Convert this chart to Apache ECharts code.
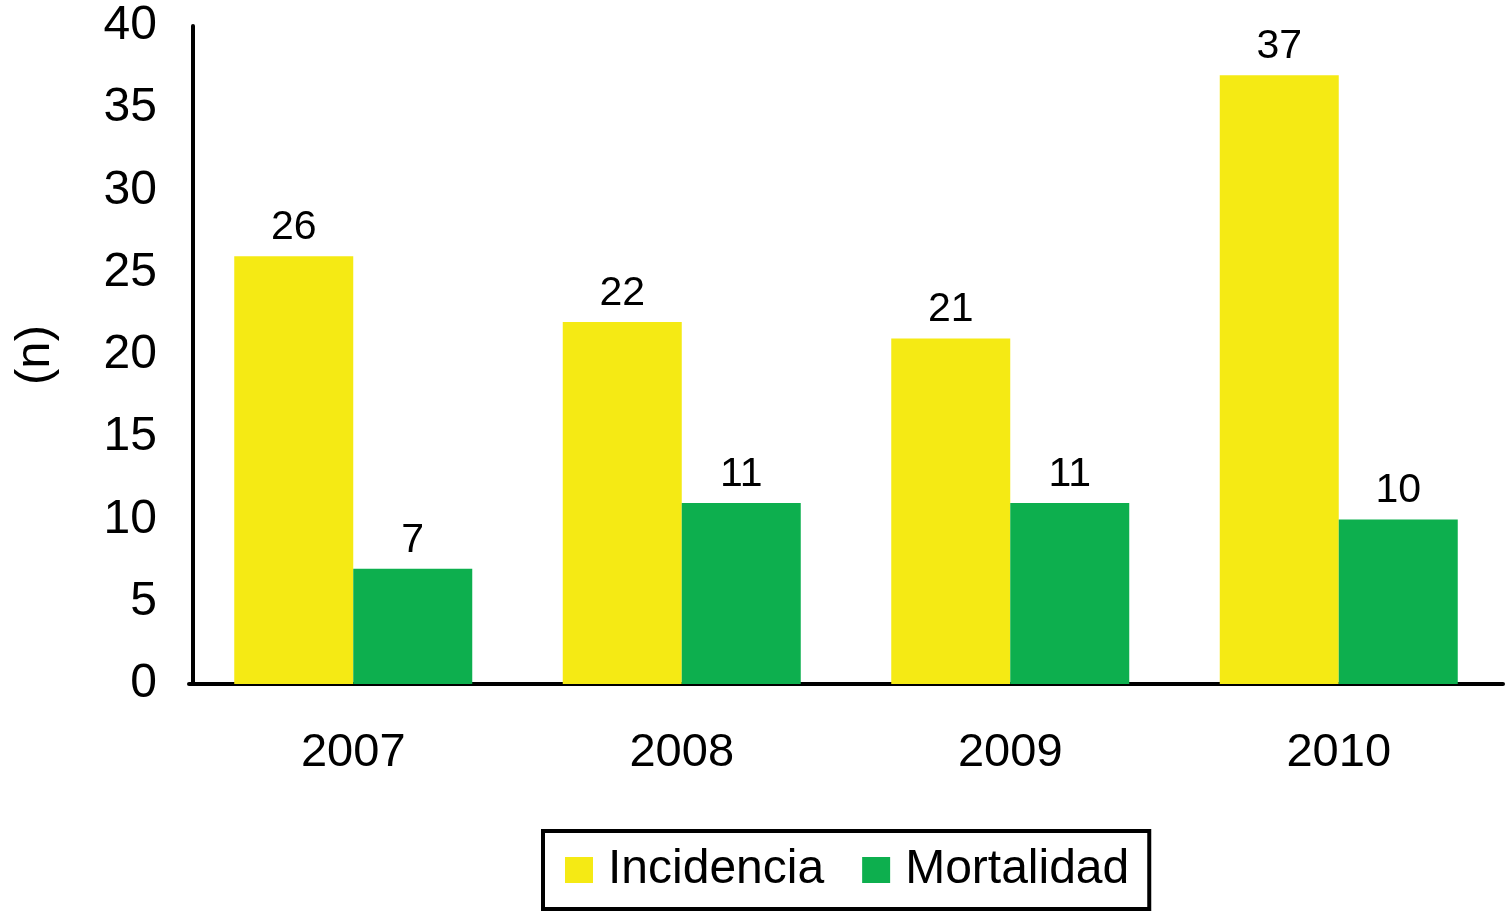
<!DOCTYPE html>
<html>
<head>
<meta charset="utf-8">
<script src="https://cdn.jsdelivr.net/npm/echarts@6/dist/echarts.min.js"></script>
<style>html,body{margin:0;padding:0;background:#fff}#c{width:1505px;height:913px}</style>
</head>
<body>
<div id="c"></div>
<script>
const categories = ['2007', '2008', '2009', '2010'];
const incidencia = [26, 22, 21, 37];
const mortalidad = [7, 11, 11, 10];
const yTicks = { min: 0, max: 40, interval: 5 };

const font = 'Liberation Sans, Arial, Helvetica, sans-serif';
const chart = echarts.init(document.getElementById('c'));
chart.setOption({
  animation: false,
  backgroundColor: '#ffffff',
  textStyle: { fontFamily: font, color: '#000' },
  grid: { left: 189, right: 2, top: 26, bottom: 229, containLabel: false },
  legend: {
    left: 543, top: 831,
    itemWidth: 28, itemHeight: 26, itemGap: 38,
    padding: [15, 20, 15, 22],
    borderColor: '#000', borderWidth: 4,
    textStyle: { fontSize: 48, fontFamily: font, color: '#000', padding: [0, 0, 0, 10] },
    icon: 'rect',
    data: ['Incidencia', 'Mortalidad']
  },
  xAxis: {
    type: 'category', data: categories,
    axisLine: { lineStyle: { color: '#000', width: 4 } },
    axisTick: { show: false },
    axisLabel: { fontSize: 47, color: '#000', margin: 46, fontFamily: font }
  },
  yAxis: {
    type: 'value', min: yTicks.min, max: yTicks.max, interval: yTicks.interval,
    offset: -4,
    name: '(n)', nameLocation: 'middle', nameGap: 133, nameRotate: 90,
    nameTextStyle: { fontSize: 49, color: '#000', fontFamily: font },
    axisLine: { show: true, lineStyle: { color: '#000', width: 4 } },
    axisTick: { show: false },
    splitLine: { show: false },
    axisLabel: { fontSize: 48, color: '#000', margin: 36, fontFamily: font }
  },
  series: [
    {
      name: 'Incidencia', type: 'bar', data: incidencia, barWidth: 119, barGap: '0%',
      itemStyle: { color: '#F5EA14' },
      label: { show: true, position: 'top', distance: 8, fontSize: 41, color: '#000', fontFamily: font }
    },
    {
      name: 'Mortalidad', type: 'bar', data: mortalidad, barWidth: 119, barGap: '0%',
      itemStyle: { color: '#0DAF4E' },
      label: { show: true, position: 'top', distance: 8, fontSize: 41, color: '#000', fontFamily: font }
    }
  ]
});
</script>
</body>
</html>
